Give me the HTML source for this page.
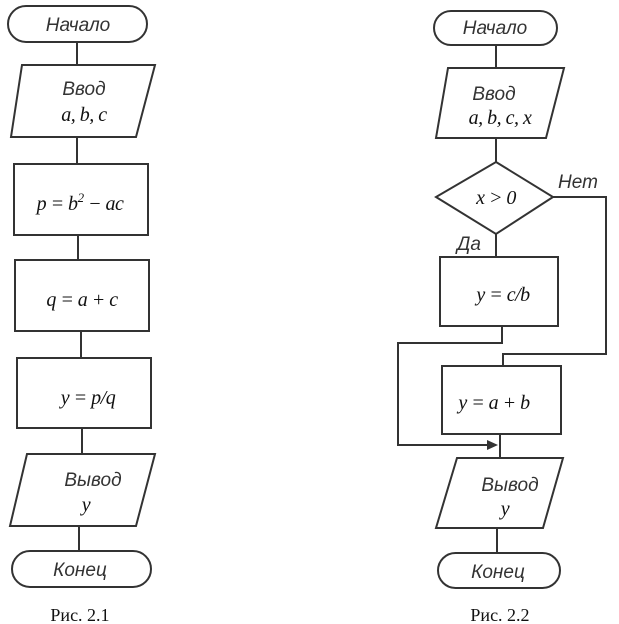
<!DOCTYPE html>
<html><head><meta charset="utf-8"><style>
body{margin:0;background:#fff;width:619px;height:624px;overflow:hidden}
svg{display:block}
.s{fill:#fff;stroke:#333;stroke-width:2}
.l{fill:none;stroke:#333;stroke-width:2}
.a{font-family:"Liberation Sans",sans-serif;font-style:italic;font-size:19px;fill:#333;text-anchor:middle}
.m{font-family:"Liberation Serif",serif;font-style:italic;font-size:20px;fill:#111;text-anchor:middle;letter-spacing:-0.5px}
.c{font-family:"Liberation Serif",serif;font-size:18px;fill:#111;text-anchor:middle}
</style></head><body>
<svg width="619" height="624" viewBox="0 0 619 624">
<!-- left -->
<path class="l" d="M77 42V65M77 137V164M78 235V260M81 331V358M82 428V454M79 526V551"/>
<rect class="s" x="8" y="6" width="139" height="36" rx="18"/>
<text class="a" x="78" y="31">Начало</text>
<polygon class="s" points="22,65 155,65 136,137 11,137"/>
<text class="a" x="84" y="95">Ввод</text>
<text class="m" x="84" y="121">a, b, c</text>
<rect class="s" x="14" y="164" width="134" height="71"/>
<text class="m" x="80" y="210">p = b<tspan dy="-8" font-size="13">2</tspan><tspan dy="8"> − ac</tspan></text>
<rect class="s" x="15" y="260" width="134" height="71"/>
<text class="m" x="82" y="306">q = a + c</text>
<rect class="s" x="17" y="358" width="134" height="70"/>
<text class="m" x="88" y="404">y = p/q</text>
<polygon class="s" points="27,454 155,454 136,526 10,526"/>
<text class="a" x="93" y="486">Вывод</text>
<text class="m" x="86" y="511">y</text>
<rect class="s" x="12" y="551" width="139" height="36" rx="18"/>
<text class="a" x="80" y="576">Конец</text>
<text class="c" x="80" y="621">Рис. 2.1</text>
<!-- right -->
<path class="l" d="M496 45V68M496 138V162M496 234V257M502 326V343H398V445H490M553 197H606V354H503V366M500 434V458M497 528V553"/>
<polygon fill="#333" points="498,445 487,440 487,450"/>
<rect class="s" x="434" y="11" width="123" height="34" rx="17"/>
<text class="a" x="495" y="34">Начало</text>
<polygon class="s" points="448,68 564,68 546,138 436,138"/>
<text class="a" x="494" y="100">Ввод</text>
<text class="m" x="500" y="124">a, b, c, x</text>
<polygon class="s" points="496,162 553,197 496,234 436,197"/>
<text class="m" x="496" y="204">x &gt; 0</text>
<text class="a" x="578" y="188">Нет</text>
<text class="a" x="469" y="250">Да</text>
<rect class="s" x="440" y="257" width="118" height="69"/>
<text class="m" x="503" y="301">y = c/b</text>
<rect class="s" x="442" y="366" width="119" height="68"/>
<text class="m" x="494" y="409">y = a + b</text>
<polygon class="s" points="457,458 563,458 543,528 436,528"/>
<text class="a" x="510" y="491">Вывод</text>
<text class="m" x="505" y="515">y</text>
<rect class="s" x="438" y="553" width="122" height="35" rx="17.5"/>
<text class="a" x="498" y="578">Конец</text>
<text class="c" x="500" y="621">Рис. 2.2</text>
</svg>
</body></html>
